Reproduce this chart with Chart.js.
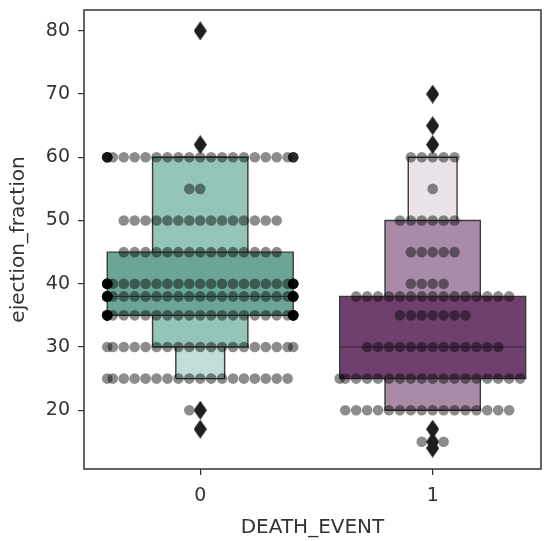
<!DOCTYPE html>
<html>
<head>
<meta charset="utf-8">
<script src="https://cdn.jsdelivr.net/npm/chart.js@4.4.1/dist/chart.umd.min.js"></script>
<style>
html, body { margin: 0; padding: 0; background: #fff; }
</style>
</head>
<body>
<canvas id="boxenChart" width="550" height="541"></canvas>
<script>
// categories on the x axis (DEATH_EVENT)
const categories = ['0', '1'];
const yTicks = [20, 30, 40, 50, 60, 70, 80];

// letter-value boxes, widest first: [low, high]
const boxes0 = [[35, 45], [30, 60], [25, 60]];
const boxes1 = [[25, 38], [20, 50], [20, 60]];
const medians = [38, 30];

// outliers (diamonds)
const outliers0 = [80, 62, 20, 17];
const outliers1 = [70, 65, 62, 17, 15, 14];

// swarm rows: value and how many points sit on it
const levels0 = [17, 20, 25, 30, 35, 38, 40, 45, 50, 55, 60, 62, 80];
const counts0 = [1, 2, 18, 19, 30, 30, 28, 15, 15, 2, 24, 1, 1];
const levels1 = [14, 15, 17, 20, 25, 30, 35, 38, 40, 45, 50, 55, 60, 62, 65, 70];
const counts1 = [1, 3, 1, 16, 18, 13, 7, 15, 4, 5, 6, 1, 5, 1, 1, 1];

const boxWidths = [0.8, 0.41, 0.21];
const boxColors = [
    ['#6aa596', '#95c4b9', '#c1ded8'],
    ['#6f3f6d', '#a98ba8', '#ebe3ea']
];
const dotStep = 0.047;
const swarmHalf = 0.4;

Chart.defaults.font.family = '"DejaVu Sans", sans-serif';
Chart.defaults.color = '#333';

function boxPath(x, lo, hi, w) {
    return [
        { x: x - w / 2, y: lo },
        { x: x + w / 2, y: lo },
        { x: x + w / 2, y: hi },
        { x: x - w / 2, y: hi },
        { x: x - w / 2, y: lo }
    ];
}

// simple swarm: center, then alternate left/right, pile at the edge when full
function swarm(x, levels, counts) {
    const pts = [];
    levels.forEach((v, i) => {
        for (let k = 0; k < counts[i]; k++) {
            const step = Math.ceil(k / 2) * (k % 2 ? -1 : 1);
            const dx = Math.max(-swarmHalf, Math.min(swarmHalf, step * dotStep));
            pts.push({ x: x + dx, y: v });
        }
    });
    return pts;
}

// thin diamond marker like matplotlib 'd'
const diamond = document.createElement('canvas');
diamond.width = 13;
diamond.height = 19;
const dctx = diamond.getContext('2d');
dctx.fillStyle = '#1e1e1e';
dctx.beginPath();
dctx.moveTo(6.5, 0);
dctx.lineTo(13, 9.5);
dctx.lineTo(6.5, 19);
dctx.lineTo(0, 9.5);
dctx.closePath();
dctx.fill();

const datasets = [];
[boxes0, boxes1].forEach((boxes, g) => {
    boxes.forEach((b, j) => {
        datasets.push({
            data: boxPath(g, b[0], b[1], boxWidths[j]),
            showLine: true,
            fill: 'shape',
            backgroundColor: boxColors[g][j],
            borderColor: '#3b3b3b',
            borderWidth: 1.4,
            pointRadius: 0,
            tension: 0,
            order: 5 + j
        });
    });
    datasets.push({
        data: [{ x: g - boxWidths[0] / 2, y: medians[g] }, { x: g + boxWidths[0] / 2, y: medians[g] }],
        showLine: true,
        fill: false,
        borderColor: g === 0 ? '#2f4a44' : '#3a253a',
        borderWidth: 1,
        pointRadius: 0,
        order: 4
    });
});

[[levels0, counts0], [levels1, counts1]].forEach(([lv, ct], g) => {
    datasets.push({
        data: swarm(g, lv, ct),
        showLine: false,
        fill: false,
        borderWidth: 0,
        pointRadius: 5.3,
        pointBorderWidth: 0,
        pointBackgroundColor: 'rgba(0,0,0,0.45)',
        order: 2
    });
});

[outliers0, outliers1].forEach((arr, g) => {
    datasets.push({
        data: arr.map(v => ({ x: g, y: v })),
        showLine: false,
        fill: false,
        borderWidth: 0,
        pointStyle: diamond,
        pointRadius: 9,
        order: 1
    });
});

const framePlugin = {
    id: 'frame',
    afterDatasetsDraw(chart) {
        const { ctx, chartArea: a } = chart;
        ctx.save();
        ctx.strokeStyle = '#333';
        ctx.lineWidth = 1.5;
        ctx.strokeRect(a.left, a.top, a.right - a.left, a.bottom - a.top);
        ctx.restore();
    }
};

new Chart(document.getElementById('boxenChart'), {
    type: 'line',
    data: { datasets: datasets },
    plugins: [framePlugin],
    options: {
        responsive: false,
        animation: false,
        events: [],
        devicePixelRatio: 1,
        layout: { padding: { top: 10, right: 6, left: 0, bottom: 0 } },
        plugins: {
            legend: { display: false },
            tooltip: { enabled: false }
        },
        scales: {
            x: {
                type: 'linear',
                min: -0.5,
                max: 1.466,
                afterBuildTicks: scale => { scale.ticks = categories.map((c, i) => ({ value: i })); },
                afterFit: scale => {
                    scale.height = 72;
                    scale.paddingLeft = 0;
                    scale.paddingRight = 0;
                },
                ticks: {
                    font: { size: 19 },
                    color: '#333',
                    padding: 10,
                    maxRotation: 0,
                    callback: v => categories[v]
                },
                grid: { drawOnChartArea: false, tickLength: 6, color: '#333', lineWidth: 1.2 },
                border: { display: false },
                title: {
                    display: true,
                    text: 'DEATH_EVENT',
                    font: { size: 20 },
                    color: '#333',
                    padding: { top: 0, bottom: 1 }
                }
            },
            y: {
                min: 10.7,
                max: 83.3,
                afterBuildTicks: scale => { scale.ticks = yTicks.map(v => ({ value: v })); },
                afterFit: scale => {
                    scale.width = 84;
                    scale.paddingTop = 0;
                    scale.paddingBottom = 0;
                },
                ticks: { font: { size: 19 }, color: '#333', padding: 8 },
                grid: { drawOnChartArea: false, tickLength: 6, color: '#333', lineWidth: 1.2 },
                border: { display: false },
                title: {
                    display: true,
                    text: 'ejection_fraction',
                    font: { size: 20 },
                    color: '#333',
                    padding: { top: 7, bottom: 0 }
                }
            }
        }
    }
});
</script>
</body>
</html>
